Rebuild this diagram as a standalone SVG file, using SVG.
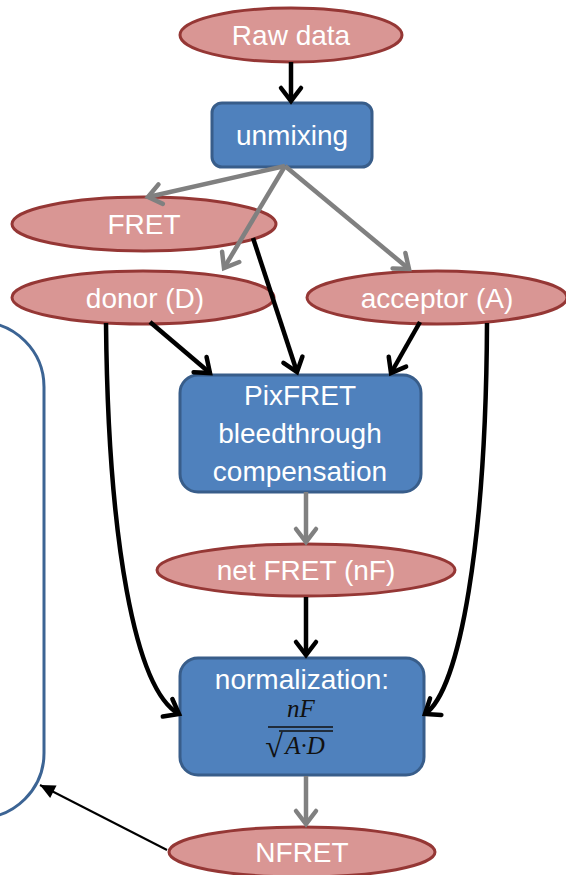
<svg xmlns="http://www.w3.org/2000/svg" width="566" height="875" viewBox="0 0 566 875">
<style>
.ell{fill:#d99694;stroke:#953735;stroke-width:3}
.box{fill:#4f81bd;stroke:#385d8a;stroke-width:3}
.lbl{font-family:"Liberation Sans",Arial,sans-serif;font-size:28px;fill:#fff;text-anchor:middle}
.blk{fill:none;stroke:#000;stroke-width:4.5}
.gry{fill:none;stroke:#808080;stroke-width:4.5}
.math{font-family:"Liberation Serif","Times New Roman",serif;font-style:italic;font-size:25px;fill:#111;text-anchor:middle}
</style>
<defs>
<marker id="ab" markerUnits="userSpaceOnUse" viewBox="-20 -15 25 30" markerWidth="25" markerHeight="30" refX="0" refY="0" orient="auto" overflow="visible">
<path d="M-13,-10 L0,0 L-13,10" fill="none" stroke="#000" stroke-width="4.5" stroke-linecap="round"/>
</marker>
<marker id="ag" markerUnits="userSpaceOnUse" viewBox="-20 -15 25 30" markerWidth="25" markerHeight="30" refX="0" refY="0" orient="auto" overflow="visible">
<path d="M-13,-10 L0,0 L-13,10" fill="none" stroke="#808080" stroke-width="4.5" stroke-linecap="round"/>
</marker>
<marker id="af" markerUnits="userSpaceOnUse" viewBox="-16 -8 17 16" markerWidth="17" markerHeight="16" refX="0" refY="0" orient="auto" overflow="visible">
<path d="M0,0 L-15,-7 L-15,7 z" fill="#000"/>
</marker>
</defs>

<g id="loop-box">
<rect x="-100" y="322" width="144" height="496" rx="65" ry="65" fill="none" stroke="#3c6494" stroke-width="3"/>
</g>

<g id="raw-data"><ellipse class="ell" cx="291" cy="35" rx="111" ry="27"/><text class="lbl" x="291" y="45">Raw data</text></g>
<g id="unmixing"><rect class="box" x="212" y="103" width="160" height="64" rx="10"/><text class="lbl" x="292" y="145">unmixing</text></g>
<g id="fret"><ellipse class="ell" cx="144" cy="224" rx="132" ry="27"/><text class="lbl" x="144" y="234">FRET</text></g>
<g id="donor"><ellipse class="ell" cx="143" cy="297.5" rx="131" ry="26.5"/><text class="lbl" x="145" y="308">donor (D)</text></g>
<g id="acceptor"><ellipse class="ell" cx="437" cy="297.5" rx="130" ry="26.5"/><text class="lbl" x="437" y="308">acceptor (A)</text></g>
<g id="pixfret"><rect class="box" x="180" y="375" width="241" height="117" rx="18"/>
<text class="lbl" x="300" y="405">PixFRET</text><text class="lbl" x="300" y="443">bleedthrough</text><text class="lbl" x="300" y="481">compensation</text></g>
<g id="net-fret"><ellipse class="ell" cx="306" cy="570" rx="149" ry="26"/><text class="lbl" x="306" y="580">net FRET (nF)</text></g>
<g id="normalization"><rect class="box" x="180" y="658" width="244" height="117" rx="18"/>
<text class="lbl" x="302" y="689">normalization:</text>
<text class="math" x="301" y="717">nF</text>
<line x1="268" y1="727" x2="333" y2="727" stroke="#111" stroke-width="1.5"/>
<text x="274" y="757" font-family="'Liberation Serif','Times New Roman',serif" font-size="32" fill="#111" text-anchor="middle">√</text>
<line x1="279" y1="731" x2="333" y2="731" stroke="#111" stroke-width="1.3"/>
<text class="math" x="305" y="754">A·D</text></g>
<g id="nfret"><ellipse class="ell" cx="302" cy="852" rx="133" ry="25"/><text class="lbl" x="302" y="862">NFRET</text></g>

<g id="connectors">
<line class="blk" x1="291" y1="62" x2="291" y2="101" marker-end="url(#ab)"/>
<line class="gry" x1="285" y1="166" x2="148" y2="197" marker-end="url(#ag)"/>
<line class="gry" x1="285" y1="166" x2="224" y2="268" marker-end="url(#ag)"/>
<line class="gry" x1="285" y1="166" x2="409" y2="269" marker-end="url(#ag)"/>
<line class="blk" x1="253" y1="238" x2="297" y2="372" marker-end="url(#ab)"/>
<line class="blk" x1="150" y1="322" x2="210" y2="373" marker-end="url(#ab)"/>
<line class="blk" x1="420" y1="322" x2="391" y2="373" marker-end="url(#ab)"/>
<line class="gry" x1="306" y1="492" x2="306" y2="542" marker-end="url(#ag)"/>
<line class="blk" x1="306" y1="597" x2="306" y2="655" marker-end="url(#ab)"/>
<line class="gry" x1="306" y1="776" x2="306" y2="824" marker-end="url(#ag)"/>
<path class="blk" d="M106,323 C108,540 135,690 179,714" marker-end="url(#ab)"/>
<path class="blk" d="M487,323 C486,540 460,690 425,714" marker-end="url(#ab)"/>
<line x1="167" y1="850" x2="40" y2="785" stroke="#000" stroke-width="2" marker-end="url(#af)"/>
</g>
</svg>
